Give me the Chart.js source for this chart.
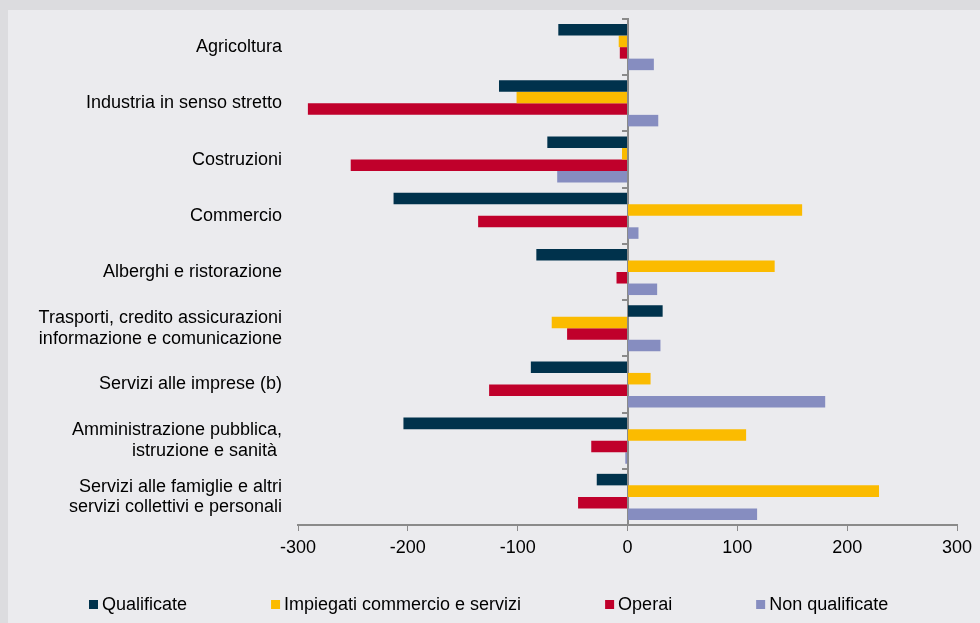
<!DOCTYPE html>
<html><head><meta charset="utf-8">
<script src="https://cdn.jsdelivr.net/npm/chart.js@4/dist/chart.umd.min.js"></script>
<style>
html,body{margin:0;padding:0;background:#dcdcdf;}
#wrap{position:relative;width:980px;height:623px;overflow:hidden;background:#dcdcdf;}
#panel{position:absolute;left:8px;top:10px;right:0;bottom:0;background:#ebebee;}
canvas{position:absolute;left:0;top:0;}
</style></head><body>
<div id="wrap"><div id="panel"></div><canvas id="c" width="980" height="623"></canvas></div>
<script>
const categories = [
  'Agricoltura',
  'Industria in senso stretto',
  'Costruzioni',
  'Commercio',
  'Alberghi e ristorazione',
  ['Trasporti, credito assicurazioni', 'informazione e comunicazione'],
  'Servizi alle imprese (b)',
  ['Amministrazione pubblica,', 'istruzione e sanità '],
  ['Servizi alle famiglie e altri', 'servizi collettivi e personali']
];
const seriesNames = ['Qualificate', 'Impiegati commercio e servizi', 'Operai', 'Non qualificate'];
const qualificate    = [-63, -117, -73, -213, -83, 32, -88, -204, -28];
const impiegati      = [-8, -101, -5, 159, 134, -69, 21, 108, 229];
const operai         = [-7, -291, -252, -136, -10, -55, -126, -33, -45];
const nonQualificate = [24, 28, -64, 10, 27, 30, 180, -2, 118];
const xTickValues = [-300, -200, -100, 0, 100, 200, 300];

const colors = ['#00324c', '#fbbb00', '#c0002b', '#868dc0'];
const seriesValues = [qualificate, impiegati, operai, nonQualificate];

Chart.defaults.font.family = '"Liberation Sans", Arial, sans-serif';
Chart.defaults.font.size = 18;
Chart.defaults.color = '#000';

const legendPlugin = {
  id: 'customLegend',
  afterDraw(chart) {
    const ctx = chart.ctx;
    ctx.save();
    ctx.font = '18px "Liberation Sans", Arial, sans-serif';
    ctx.textBaseline = 'middle';
    let x = 89; const y = 605;
    chart.data.datasets.forEach(ds => {
      ctx.fillStyle = ds.backgroundColor;
      ctx.fillRect(x, y - 5, 9, 9);
      ctx.fillStyle = '#000';
      ctx.fillText(ds.label, x + 13, y);
      x += 13 + ctx.measureText(ds.label).width + 84;
    });
    ctx.restore();
  }
};

new Chart(document.getElementById('c'), {
  type: 'bar',
  data: {
    labels: categories,
    datasets: seriesNames.map((n, i) => ({
      label: n,
      data: seriesValues[i],
      backgroundColor: colors[i],
      borderWidth: 0,
      barPercentage: 1,
      categoryPercentage: 0.82,
      yAxisID: 'y'
    }))
  },
  options: {
    indexAxis: 'y',
    responsive: false,
    animation: false,
    layout: { padding: { left: 0, top: 19, right: 23, bottom: 58 } },
    plugins: { legend: { display: false }, tooltip: { enabled: false } },
    scales: {
      x: {
        type: 'linear', min: -300, max: 300,
        afterBuildTicks(s) { s.ticks = xTickValues.map(v => ({ value: v })); },
        ticks: { color: '#000', font: { size: 18 }, padding: 6 },
        grid: { drawOnChartArea: false, drawTicks: true, tickLength: 6, color: '#8a8a8a', lineWidth: 1 },
        border: { display: true, color: '#8a8a8a', width: 2 },
        afterFit(s) { s.height = 40; s.paddingLeft = 0; s.paddingRight = 0; }
      },
      y: {
        type: 'category', position: 'left', offset: true,
        grid: { display: false, drawTicks: false },
        border: { display: false },
        ticks: { color: '#000', font: { size: 18, lineHeight: 1.15 }, padding: 16, autoSkip: false },
        afterFit(s) { s.width = 298; s.paddingTop = 0; s.paddingBottom = 0; }
      },
      y2: {
        type: 'category', axis: 'y', position: { x: 0 }, offset: true,
        grid: { offset: true, drawOnChartArea: false, drawTicks: true, tickLength: 5, color: '#8a8a8a', lineWidth: 2 },
        border: { display: true, color: '#8a8a8a', width: 2 },
        ticks: { display: false },
        afterFit(s) { s.paddingTop = 0; s.paddingBottom = 0; }
      }
    }
  },
  plugins: [legendPlugin]
});
</script>
</body></html>
